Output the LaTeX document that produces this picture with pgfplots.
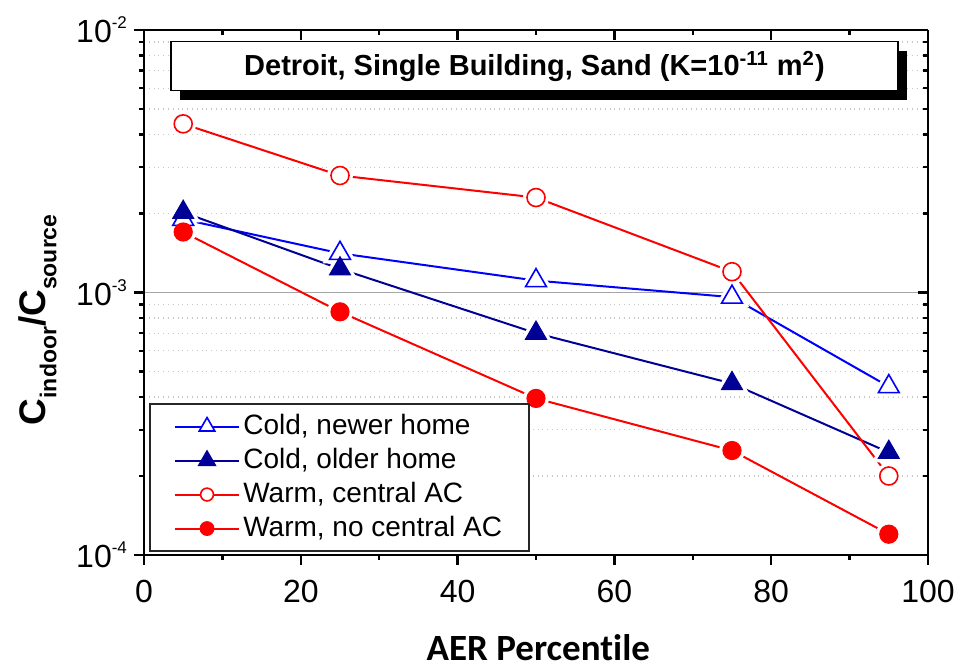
\documentclass[border=0pt]{standalone}
\usepackage{fontspec}
\setmainfont{Liberation Sans}
\newfontfamily\calib[Ligatures={NoCommon,NoRare}]{Carlito}
\usepackage{pgfplots}
\usepackage{pgfplotstable}
\pgfplotsset{compat=1.18}
\usetikzlibrary{shadows}
\definecolor{cnew}{RGB}{0,0,255}
\definecolor{cold}{RGB}{0,0,150}
\definecolor{cwarm}{RGB}{255,0,0}
\newcommand\tp[1]{10\raisebox{7pt}{\fontsize{8.5}{8.5}\selectfont #1}}
\newcommand\sub[1]{\raisebox{-0.3em}{\fontsize{11.5}{11.5}\selectfont #1}}

\pgfplotstableread{
x  newer    older    warmac   warmno
5  1.90e-3  2.02e-3  4.39e-3  1.70e-3
25 1.41e-3  1.23e-3  2.79e-3  8.44e-4
50 1.11e-3  7.00e-4  2.30e-3  3.95e-4
75 9.60e-4  4.50e-4  1.20e-3  2.50e-4
95 4.38e-4  2.46e-4  2.00e-4  1.20e-4
}\data

\pgfplotsset{
  halo/.style={forget plot, only marks, mark options={draw=white, fill=white, line width=4pt, solid}},
}

\begin{document}
\begin{tikzpicture}
\begin{axis}[
  scale only axis, width=392pt, height=262.5pt,
  xmin=0, xmax=100, ymode=log, ymin=1e-4, ymax=1e-2,
  xtick={0,20,40,60,80,100}, minor x tick num=1,
  ytick={1e-4,1e-3,1e-2},
  axis line style={line width=1.2pt, -},
  tick style={line width=1.2pt, black},
  major tick length=5pt, minor tick length=2.5pt,
  name=main,
  axis x line*=bottom, axis y line*=left,
  tick align=outside,
  ymajorgrids, yminorgrids,
  major grid style={gray!70, line width=0.6pt},
  minor grid style={gray!45, dotted, line width=0.6pt},
  /pgf/number format/assume math mode=true,
  xticklabel style={font=\fontsize{16}{16}\selectfont, yshift=-4pt},
  yticklabels={\tp{-4},\tp{-3},\tp{-2}},
  yticklabel style={font=\fontsize{16}{16}\selectfont},
  xlabel={AER Percentile},
  xlabel style={font=\calib\bfseries\fontsize{18.5}{22}\selectfont, at={(axis description cs:0.503,-0.177)}, anchor=center},
  ylabel={C\sub{indoor}/C\sub{source}},
  ylabel style={font=\bfseries\fontsize{18.5}{22}\selectfont, at={(axis description cs:-0.1358,0.448)}, anchor=center},
  legend style={at={(rel axis cs:0.0068,0.006)}, anchor=south west, draw=black!85, line width=0.8pt,
    font=\fontsize{14}{16}\selectfont, inner xsep=11.8pt, inner ysep=3pt, row sep=0.5pt,
    nodes={inner sep=1.5pt, text height=10.5pt, text depth=3pt},
    cells={anchor=west}},
  legend image code/.code={\draw[mark repeat=2,mark phase=2] plot coordinates {(0pt,0pt) (16.15pt,0pt) (32.3pt,0pt)};},
]
% lines
\addplot[forget plot, cnew, line width=1pt] table[x=x,y=newer]{\data};
\addplot[forget plot, cold, line width=1pt] table[x=x,y=older]{\data};
\addplot[forget plot, cwarm, line width=1pt] table[x=x,y=warmac]{\data};
\addplot[forget plot, cwarm, line width=1pt] table[x=x,y=warmno]{\data};
% halos
\addplot[halo, mark=triangle*, mark size=6pt] table[x=x,y=newer]{\data};
\addplot[halo, mark=triangle*, mark size=6pt] table[x=x,y=older]{\data};
\addplot[halo, mark=*, mark size=4.5pt] table[x=x,y=warmac]{\data};
\addplot[halo, mark=*, mark size=4.5pt] table[x=x,y=warmno]{\data};
% marks
\addplot[forget plot, only marks, cnew, mark=triangle*, mark size=6pt, mark options={fill=white, line width=0.8pt}] table[x=x,y=newer]{\data};
\addplot[forget plot, only marks, cold, mark=triangle*, mark size=6pt, mark options={fill=cold, line width=0.6pt}] table[x=x,y=older]{\data};
\addplot[forget plot, only marks, cwarm, mark=*, mark size=4.5pt, mark options={fill=white, line width=0.8pt}] table[x=x,y=warmac]{\data};
\addplot[forget plot, only marks, cwarm, mark=*, mark size=4.5pt, mark options={fill=cwarm, line width=0.6pt}] table[x=x,y=warmno]{\data};
% legend
\addlegendimage{cnew, line width=1pt, mark=triangle*, mark size=4.5pt, mark options={fill=white, line width=0.8pt}}
\addlegendentry{Cold, newer home}
\addlegendimage{cold, line width=1pt, mark=triangle*, mark size=4.5pt, mark options={fill=cold}}
\addlegendentry{Cold, older home}
\addlegendimage{cwarm, line width=1pt, mark=*, mark size=3.2pt, mark options={fill=white, line width=0.8pt}}
\addlegendentry{Warm, central AC}
\addlegendimage{cwarm, line width=1pt, mark=*, mark size=3.2pt, mark options={fill=cwarm}}
\addlegendentry{Warm, no central AC}
% title box
\node[draw=black, line width=0.75pt, fill=white, minimum width=363.5pt, minimum height=24.5pt,
  drop shadow={shadow xshift=4.5pt, shadow yshift=-4.5pt, fill=black, opacity=1},
  font=\bfseries\fontsize{14.5}{17}\selectfont]
  at (rel axis cs:0.498,0.931) {Detroit, Single Building, Sand (K=10\textsuperscript{-11} m\textsuperscript{2})};
\end{axis}
\begin{axis}[
  scale only axis, width=392pt, height=262.5pt,
  xmin=0, xmax=100, ymode=log, ymin=1e-4, ymax=1e-2,
  xtick={0,20,40,60,80,100}, minor x tick num=1,
  ytick={1e-4,1e-3,1e-2},
  axis line style={line width=1.2pt, -},
  tick style={line width=1.2pt, black},
  major tick length=5pt, minor tick length=2.5pt,
  axis x line*=top, axis y line*=right,
  tick align=inside,
  xticklabels={}, yticklabels={},
]
\addplot[draw=none, forget plot] coordinates {(50,1e-3)};
\end{axis}
\path ([xshift=-72pt, yshift=-57pt]main.south west) rectangle ([xshift=18.5pt, yshift=15pt]main.north east);
\end{tikzpicture}
\end{document}
